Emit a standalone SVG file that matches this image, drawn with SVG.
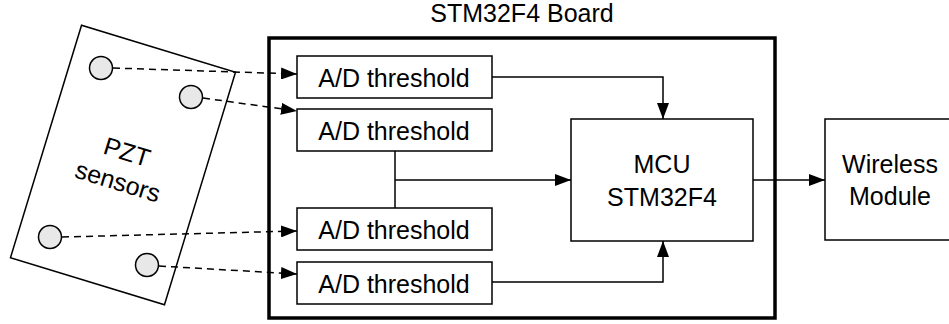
<svg xmlns="http://www.w3.org/2000/svg" width="949" height="324" viewBox="0 0 949 324">
<defs>
<marker id="ah" markerWidth="16" markerHeight="12" refX="16" refY="6" orient="auto" markerUnits="userSpaceOnUse">
<path d="M0,0 L16,6 L0,12 Z" fill="#000"/>
</marker>
<style>
text{font-family:"Liberation Sans",Arial,sans-serif;font-size:25px;fill:#000;text-anchor:middle}
.box{fill:#fff;stroke:#000;stroke-width:1.5}
.sensor{fill:#e8e8e8;stroke:#000;stroke-width:1.5}
.ln{fill:none;stroke:#000;stroke-width:1.5}
.dash{fill:none;stroke:#000;stroke-width:1.5;stroke-dasharray:7 5}
</style>
</defs>
<rect width="949" height="324" fill="#fff"/>
<g id="board">
<rect x="269" y="38" width="506" height="280" fill="none" stroke="#000" stroke-width="3.5"/>
<text x="522" y="22">STM32F4 Board</text>
</g>
<g id="pzt">
<rect x="42.5" y="43.5" width="161" height="243" class="box" transform="rotate(17 123 165)"/>
<g transform="rotate(17 123 165)">
<text x="123" y="160">PZT</text>
<text x="123" y="191">sensors</text>
</g>
</g>
<g id="sensor1"><circle cx="101" cy="68" r="11.5" class="sensor"/></g>
<g id="sensor2"><circle cx="191" cy="97" r="11.5" class="sensor"/></g>
<g id="sensor3"><circle cx="50" cy="237" r="11.5" class="sensor"/></g>
<g id="sensor4"><circle cx="147" cy="265" r="11.5" class="sensor"/></g>
<g id="ad1"><rect x="297" y="56" width="195" height="42" class="box"/><text x="394" y="87">A/D threshold</text></g>
<g id="ad2"><rect x="297" y="109" width="195" height="42" class="box"/><text x="394" y="140">A/D threshold</text></g>
<g id="ad3"><rect x="297" y="208" width="195" height="42" class="box"/><text x="394" y="239">A/D threshold</text></g>
<g id="ad4"><rect x="297" y="262" width="195" height="42" class="box"/><text x="394" y="293">A/D threshold</text></g>
<g id="mcu"><rect x="571" y="119" width="182" height="122" class="box"/><text x="662" y="173">MCU</text><text x="662" y="206">STM32F4</text></g>
<g id="wireless"><rect x="825" y="119" width="140" height="121" class="box"/><text x="890" y="173">Wireless</text><text x="890" y="205">Module</text></g>
<g id="connectors">
<path class="dash" d="M113,68 L297,74" marker-end="url(#ah)"/>
<path class="dash" d="M203,98 L297,111" marker-end="url(#ah)"/>
<path class="dash" d="M62,237 L297,231" marker-end="url(#ah)"/>
<path class="dash" d="M159,266 L297,274" marker-end="url(#ah)"/>
<path class="ln" d="M492,77 H663 V119" marker-end="url(#ah)"/>
<path class="ln" d="M492,282 H663 V241" marker-end="url(#ah)"/>
<path class="ln" d="M395,151 V208"/>
<path class="ln" d="M395,180 H571" marker-end="url(#ah)"/>
<path class="ln" d="M753,180 H825" marker-end="url(#ah)"/>
</g>
</svg>
